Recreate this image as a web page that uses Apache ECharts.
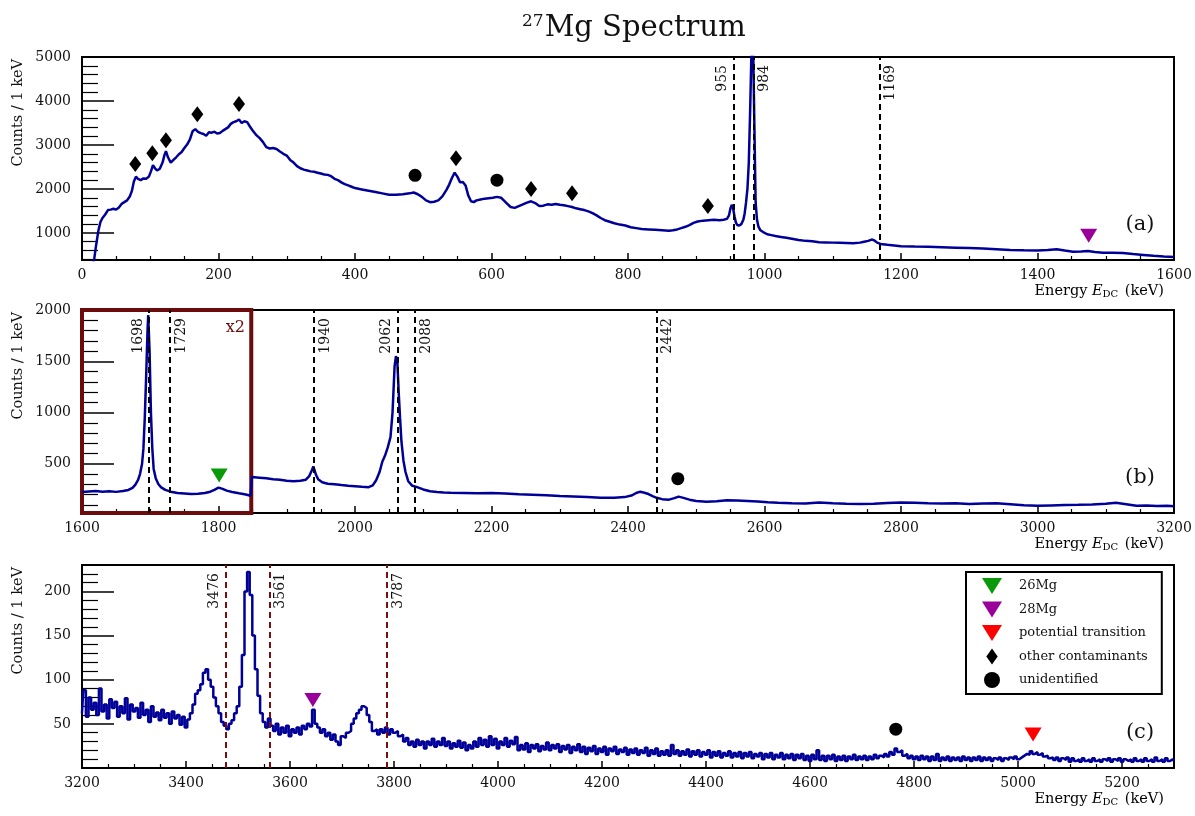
<!DOCTYPE html>
<html><head><meta charset="utf-8">
<script src="https://cdn.jsdelivr.net/npm/echarts@6/dist/echarts.min.js"></script>
<style>html,body{margin:0;padding:0;background:#fff}#c{width:1195px;height:816px}</style>
</head><body><div id="c"></div><script>
// ---------- DATA ----------
// Panel (a): [energy keV, counts]
const specA = [[16,300],[18,420],[20,650],[22,850],[24,1050],[27,1250],[30,1340],[34,1420],[38,1520],[42,1530],[46,1550],[50,1530],[54,1580],[58,1660],[62,1700],[66,1740],[70,1830],[73,1950],[76,2170],[79,2280],[82,2230],[86,2200],[90,2240],[94,2230],[98,2280],[101,2400],[104,2540],[107,2470],[110,2420],[114,2460],[118,2600],[121,2780],[123,2860],[126,2720],[130,2600],[134,2660],[138,2720],[142,2790],[146,2840],[150,2930],[154,3010],[158,3120],[162,3310],[166,3360],[170,3300],[174,3270],[178,3250],[182,3210],[186,3290],[190,3280],[194,3300],[198,3260],[202,3270],[206,3320],[210,3360],[214,3400],[218,3480],[222,3520],[226,3540],[230,3580],[234,3500],[238,3540],[242,3520],[246,3420],[250,3330],[255,3230],[260,3160],[265,3070],[270,2950],[275,2920],[280,2930],[285,2910],[290,2850],[295,2800],[300,2760],[305,2660],[310,2600],[315,2520],[320,2470],[325,2440],[330,2420],[335,2400],[340,2390],[345,2370],[350,2350],[355,2330],[360,2320],[365,2290],[370,2230],[375,2200],[380,2150],[385,2110],[390,2080],[395,2050],[400,2020],[410,1990],[420,1960],[430,1930],[440,1900],[450,1870],[460,1870],[470,1880],[480,1900],[486,1920],[492,1880],[498,1820],[504,1740],[510,1700],[516,1710],[522,1740],[528,1830],[534,1980],[538,2100],[542,2250],[546,2370],[550,2280],[554,2150],[558,2160],[562,2080],[566,1850],[570,1720],[574,1700],[578,1740],[584,1760],[590,1780],[596,1790],[602,1800],[608,1820],[614,1800],[618,1740],[622,1680],[628,1590],[634,1570],[640,1610],[646,1650],[652,1690],[658,1720],[664,1680],[670,1610],[676,1620],[682,1650],[688,1640],[694,1660],[700,1640],[706,1630],[712,1610],[718,1590],[724,1560],[730,1540],[736,1520],[742,1490],[748,1450],[754,1400],[760,1340],[766,1290],[772,1260],[780,1220],[788,1190],[796,1170],[804,1130],[812,1110],[820,1090],[830,1080],[840,1070],[850,1060],[860,1050],[866,1060],[872,1080],[878,1110],[884,1140],[890,1180],[896,1230],[902,1260],[910,1280],[918,1290],[926,1300],[934,1290],[940,1300],[945,1320],[948,1400],[950,1550],[952,1640],[954,1560],[956,1380],[958,1240],[960,1180],[963,1170],[966,1200],[969,1300],[971,1450],[973,1700],[975,2000],[977,2600],[979,3800],[981,5200],[983,5600],[985,3600],[987,1700],[989,1300],[991,1150],[994,1060],[998,1020],[1004,970],[1010,950],[1016,930],[1024,910],[1032,890],[1040,870],[1050,840],[1060,820],[1070,810],[1080,790],[1090,785],[1100,780],[1110,775],[1120,770],[1130,765],[1140,780],[1146,800],[1152,820],[1157,850],[1161,830],[1165,780],[1170,750],[1180,730],[1190,715],[1200,700],[1220,690],[1240,685],[1260,675],[1280,665],[1300,655],[1320,645],[1340,630],[1360,615],[1380,605],[1400,600],[1415,610],[1428,630],[1440,600],[1452,575],[1464,580],[1474,590],[1484,565],[1496,550],[1510,550],[1525,545],[1540,520],[1555,500],[1570,480],[1585,465],[1600,455]];

// Panel (b): [energy keV, counts]
const specB = [[1600,225],[1610,230],[1620,235],[1630,228],[1640,232],[1650,226],[1660,235],[1668,245],[1674,265],[1678,295],[1682,340],[1685,400],[1688,500],[1690,650],[1692,950],[1694,1350],[1696,1800],[1697,1950],[1699,1600],[1701,1000],[1703,650],[1705,450],[1708,360],[1712,300],[1716,270],[1722,245],[1730,228],[1740,215],[1750,210],[1760,205],[1770,208],[1780,215],[1788,228],[1794,245],[1800,268],[1806,255],[1812,238],[1820,225],[1830,212],[1840,200],[1847,188],[1849,370],[1860,365],[1870,360],[1880,350],[1890,345],[1900,335],[1910,330],[1920,335],[1928,345],[1933,380],[1937,440],[1939,475],[1941,460],[1943,390],[1946,350],[1952,320],[1960,305],[1970,300],[1980,292],[1990,285],[2000,280],[2010,275],[2020,272],[2026,290],[2031,340],[2036,420],[2040,520],[2044,580],[2048,660],[2052,760],[2055,1000],[2058,1450],[2060,1550],[2062,1500],[2064,1200],[2066,950],[2068,720],[2071,530],[2074,420],[2078,330],[2084,285],[2090,275],[2100,250],[2110,232],[2120,225],[2130,220],[2140,218],[2160,216],[2180,212],[2200,215],[2220,210],[2240,202],[2260,198],[2280,192],[2300,185],[2320,180],[2340,175],[2360,168],[2380,168],[2395,175],[2405,190],[2412,215],[2418,228],[2424,218],[2430,205],[2436,185],[2442,168],[2450,155],[2460,150],[2468,165],[2474,180],[2480,170],[2490,150],[2500,138],[2515,130],[2530,135],[2545,145],[2560,142],[2575,138],[2590,132],[2605,125],[2620,120],[2640,115],[2660,113],[2680,122],[2700,115],[2720,110],[2740,108],[2760,110],[2780,118],[2800,122],[2820,120],[2840,115],[2860,112],[2880,114],[2900,108],[2920,112],[2940,115],[2960,105],[2980,95],[3000,90],[3020,94],[3040,98],[3060,100],[3080,104],[3100,110],[3115,120],[3130,105],[3145,90],[3160,92],[3175,88],[3190,90],[3200,85]];

// Panel (c): counts in 5 keV steps starting at 3200 keV
const startC = 3200, stepC = 5;
const countsC = [
 62,88,58,80,66,74,60,90,64,72,56,78,68,75,58,70,62,79,55,72,
 64,68,57,74,60,66,52,70,58,63,54,66,57,62,50,64,56,60,49,58,
 46,55,62,72,84,88,95,108,112,100,92,80,70,62,52,48,44,50,54,62,
 70,92,128,200,222,196,150,112,82,62,52,46,56,48,42,50,38,46,40,48,
 36,44,40,46,38,48,44,50,47,66,50,46,40,44,36,40,32,38,30,26,
 36,34,40,42,50,56,62,66,70,68,60,52,42,44,38,44,40,46,38,44,
 40,42,36,38,30,34,26,30,24,32,26,30,22,30,26,33,24,30,26,34,
 25,30,22,28,24,31,23,29,20,26,22,30,24,34,26,32,24,36,26,33,
 22,30,26,34,24,31,27,35,20,26,21,28,18,26,22,27,19,25,21,29,
 20,26,22,27,18,25,21,26,17,24,20,27,18,24,16,23,19,25,16,22,
 18,24,15,22,19,24,16,21,18,23,15,21,17,22,15,20,17,23,14,20,
 16,22,14,19,15,20,14,26,16,20,14,19,15,21,13,19,15,20,13,18,
 15,20,12,18,14,19,12,17,14,19,12,17,13,18,11,17,13,18,11,16,
 13,17,10,16,12,17,10,15,12,17,10,15,11,16,9,15,11,16,9,14,
 8,15,10,20,9,14,8,14,10,15,8,13,9,14,8,13,10,15,9,13,
 10,14,9,13,10,15,11,14,12,16,13,18,15,22,18,20,14,16,11,14,
 10,13,9,14,10,13,8,13,9,16,8,12,9,13,8,12,9,12,8,13,
 9,12,8,12,9,13,8,12,9,12,8,11,9,12,8,11,9,12,10,13,
 10,12,14,16,15,19,16,18,15,17,13,14,11,12,9,12,8,11,9,12,
 7,11,8,10,7,11,8,10,7,11,8,10,7,10,8,11,7,10,8,11,
 7,10,8,10,7,11,8,10,7,11,8,10,7,12,8,10,7,11,8,10,
 8];

// Transition lines (keV)
const linesA = [955, 984, 1169];
const linesB = [1698, 1729, 1940, 2062, 2088, 2442];
const linesC = [3476, 3561, 3787];
const labelLeft = [955, 1698, 2062, 3476];

// Markers [energy, counts]
const diamondsA = [[78,2570],[103,2810],[123,3110],[169,3700],[230,3930],[548,2700],[658,2000],[718,1900],[917,1610]];
const circlesA = [[488,2310],[608,2200]];
const mg28A = [[1475,935]];
const mg26B = [[1801,385]];
const circlesB = [[2473,355]];
const mg28C = [[3644,77]];
const circlesC = [[4765,44]];
const potentialC = [[5029,38]];

// Axis ranges
const xRanges = [[0,1600],[1600,3200],[3200,5300]];
const yRanges = [[385,5000,5],[20,2000,4],[0,230,5]];
const x2Box = [1600, 1848];

// ---------- CHART ----------
const FONT = 'DejaVu Serif';
const BLUE = '#000099';
const TRI = 'path://M0,0L20,0L10,16Z';
const DIA = 'path://M5,0L10,7L5,14L0,7Z';
const specC = countsC.map((v,i)=>[startC + i*stepC, v]);

const tops = [57, 310, 565];
const grid = tops.map(t => ({left:82, right:21, top:t, height:203, show:true, borderColor:'#000', borderWidth:2, backgroundColor:'rgba(0,0,0,0)'}));
const plain = v => String(v);

const xAxis = xRanges.map((r,i)=>({
  type:'value', gridIndex:i, min:r[0], max:r[1], interval:200,
  axisLine:{show:false},
  axisTick:{show:true, inside:true, length:7, lineStyle:{color:'#000', width:1.5}},
  minorTick:{show:true, splitNumber:4, length:4, lineStyle:{color:'#000', width:1.2}},
  splitLine:{show:false}, minorSplitLine:{show:false},
  axisLabel:{fontFamily:FONT, fontSize:14, color:'#111', margin:8, showMaxLabel: i!==2, formatter:plain}
}));
const yAxis = yRanges.map((r,i)=>({
  type:'value', gridIndex:i, min:r[0], max:r[1], splitNumber:r[2],
  axisLine:{show:false},
  axisTick:{show:true, inside:true, length:32, lineStyle:{color:'#000', width:1.5}},
  minorTick:{show:true, splitNumber:5, length:16, lineStyle:{color:'#000', width:1.2}},
  splitLine:{show:false}, minorSplitLine:{show:false},
  axisLabel:{fontFamily:FONT, fontSize:14, color:'#111', margin:11, showMinLabel:false, showMaxLabel: i!==2, formatter:plain}
}));

function markLines(vals, color){
  return {
    silent:true, symbol:['none','none'], animation:false,
    lineStyle:{type:[6,4], color:color, width:2},
    label:{show:true, formatter:'{b}', fontFamily:FONT, fontSize:14, color:'#111', distance:[8,4]},
    data: vals.map(v=>({xAxis:v, name:String(v),
      label:{position: labelLeft.includes(v) ? 'insideEndTop' : 'insideEndBottom'}}))
  };
}

const specSeries = [specA, specB, specC].map((d,i)=>({
  type:'line', name:'spectrum'+i, xAxisIndex:i, yAxisIndex:i, data:d, symbol:'none',
  step: i===2 ? 'middle' : false, clip:true, z:3,
  lineStyle:{color:BLUE, width:2.5}, emphasis:{disabled:true},
  markLine: markLines([linesA,linesB,linesC][i], i===2 ? '#7a0d0d' : '#000')
}));
specSeries[1].markArea = {
  silent:true,
  itemStyle:{color:'rgba(0,0,0,0)', borderColor:'#6b0b0b', borderWidth:4},
  label:{show:false},
  data:[[{xAxis:x2Box[0]},{xAxis:x2Box[1]}]]
};

function sc(name, i, data, symbol, color, size){
  return {type:'scatter', name, xAxisIndex:i, yAxisIndex:i, data, symbol, symbolSize:size,
    symbolKeepAspect:false, itemStyle:{color, opacity:1}, z:5, emphasis:{disabled:true}};
}
const GREEN='#0a990a', PURPLE='#990099', RED='#ff0000';
const markerSeries = [
  sc('26Mg', 1, mg26B, TRI, GREEN, [17,14]),
  sc('28Mg', 0, mg28A, TRI, PURPLE, [17,14]),
  sc('28Mg', 2, mg28C, TRI, PURPLE, [17,14]),
  sc('potential transition', 2, potentialC, TRI, RED, [17,14]),
  sc('other contaminants', 0, diamondsA, DIA, '#000', [12,16]),
  sc('unidentified', 0, circlesA, 'circle', '#000', 13),
  sc('unidentified', 1, circlesB, 'circle', '#000', 13),
  sc('unidentified', 2, circlesC, 'circle', '#000', 13)
];

const xTitleRich = {
  n:{fontFamily:FONT, fontSize:14.5, color:'#111'},
  i:{fontFamily:FONT, fontSize:14.5, fontStyle:'italic', color:'#111'},
  d:{fontFamily:FONT, fontSize:10, color:'#111', padding:[6,2,0,0]}
};

const graphic = [];
tops.forEach((t,i)=>{
  graphic.push({type:'text', x:18, y:t+2, rotation:Math.PI/2, silent:true,
    style:{text:'Counts / 1 keV', font:'14.5px "DejaVu Serif"', fill:'#111', align:'right', verticalAlign:'middle'}});
  graphic.push({type:'text', x:1164, y:t+234, silent:true,
    style:{text:'{n|Energy }{i|E}{d|DC}{n| (keV)}', rich:xTitleRich, align:'right', verticalAlign:'middle'}});
  graphic.push({type:'text', x:1140, y:t+168, silent:true,
    style:{text:['(a)','(b)','(c)'][i], font:'21px "DejaVu Serif"', fill:'#111', align:'center', verticalAlign:'middle'}});
});
graphic.push({type:'text', x:245, y:328, silent:true, z:10,
  style:{text:'x2', font:'16px "DejaVu Serif"', fill:'#6b0b0b', align:'right', verticalAlign:'middle'}});

const legendIcons = {'26Mg':TRI, '28Mg':TRI, 'potential transition':TRI, 'other contaminants':DIA, 'unidentified':'circle'};
const option = {
  animation:false,
  backgroundColor:'#fff',
  title:{text:'{s|27}{m|Mg Spectrum}', left:517, top:8,
    textStyle:{fontWeight:'normal', rich:{s:{fontFamily:FONT, fontSize:17, fontWeight:'normal', color:'#111', verticalAlign:'top', padding:[0,1,14,0]},
                     m:{fontFamily:FONT, fontSize:29, fontWeight:'normal', color:'#111'}}}},
  legend:{left:966, top:572, orient:'vertical', selectedMode:false, symbolKeepAspect:true,
    itemWidth:20, itemHeight:16, itemGap:7.5, padding:[6,14,6,16],
    borderColor:'#000', borderWidth:2, backgroundColor:'#fff',
    textStyle:{fontFamily:FONT, fontSize:13, color:'#111', padding:[0,0,0,12]},
    data:Object.keys(legendIcons).map(n=>({name:n, icon:legendIcons[n]}))},
  grid, xAxis, yAxis,
  series:[...specSeries, ...markerSeries],
  graphic
};
const chart = echarts.init(document.getElementById('c'), null, {renderer:'canvas'});
chart.setOption(option);
</script></body></html>
